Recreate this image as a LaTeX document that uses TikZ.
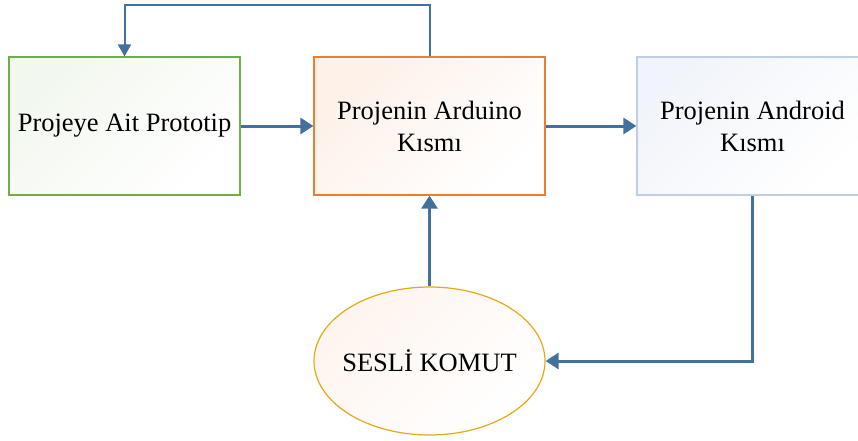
\documentclass[tikz,border=0pt]{standalone}
\usepackage{fontspec}
\setmainfont{Liberation Serif}
\usetikzlibrary{arrows.meta,shapes.geometric}
\definecolor{flowBlue}{RGB}{65,113,156}
\definecolor{protoGreen}{RGB}{112,173,71}
\definecolor{arduOrange}{RGB}{237,125,49}
\definecolor{androBlue}{RGB}{190,205,232}
\definecolor{komutGold}{RGB}{228,170,20}

\begin{document}
\begin{tikzpicture}[x=1pt, y=-1pt,
    part/.style={rectangle, line width=1.2pt, minimum width=231pt,
                 minimum height=138pt, align=center,
                 font=\fontsize{26.5}{32}\selectfont},
    flow/.style={-{Triangle[length=13pt, width=16pt]}, flowBlue, line width=3pt},
    back/.style={-{Triangle[length=12pt, width=13pt]}, flowBlue, line width=2pt}
  ]
  \useasboundingbox (0,0) rectangle (858,441);
  \clip (0,0) rectangle (858,441);

  \node[part, draw=protoGreen, top color=protoGreen!9, bottom color=white,
        shading angle=45] (proto) at (124.5,126) {Projeye Ait Prototip};
  \node[part, draw=arduOrange, top color=arduOrange!11, bottom color=white,
        shading angle=45] (ardu) at (429.5,126) {Projenin Arduino\\Kısmı};
  \node[part, draw=androBlue, top color=androBlue!22, bottom color=white,
        shading angle=45] (andro) at (752.5,126) {Projenin Android\\Kısmı};
  \node[ellipse, draw=komutGold, line width=1.2pt, minimum width=231pt,
        minimum height=148pt, inner xsep=-8pt, inner ysep=0pt,
        top color=arduOrange!8, bottom color=white, shading angle=45,
        font=\fontsize{26.5}{32}\selectfont]
    (komut) at (429.5,361) {SESLİ KOMUT};

  \coordinate (bend) at (276,5);

  \draw[flow] (proto) -- (ardu);
  \draw[flow] (ardu) -- (andro);
  \draw[flow] (komut) -- (ardu);
  \draw[flow] (andro.south) |- (komut.east);
  \draw[back] (ardu.north) |- (bend) -| (proto.north);
\end{tikzpicture}
\end{document}
